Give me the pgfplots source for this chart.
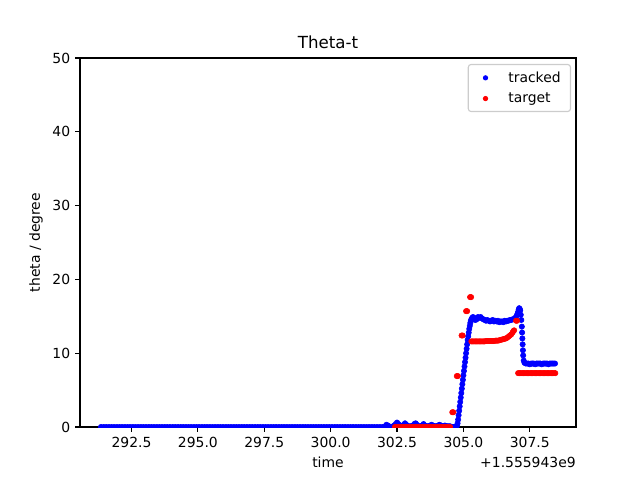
\documentclass[border=0pt]{standalone}
\usepackage{pgfplots}
\pgfplotsset{compat=1.18}
\usepackage{pgfplotstable}
\usepackage{fontspec}
\setmainfont{DejaVu Sans}

% tracked angle (blue)
\pgfplotstableread[row sep=\\]{
x y\\
291.35 0\\ 291.45 0\\ 291.55 0\\ 291.65 0\\ 291.75 0\\ 291.85 0\\ 291.95 0\\ 292.05 0\\ 292.15 0\\ 292.25 0\\
292.35 0\\ 292.45 0\\ 292.55 0\\ 292.65 0\\ 292.75 0\\ 292.85 0\\ 292.95 0\\ 293.05 0\\ 293.15 0\\ 293.25 0\\
293.35 0\\ 293.45 0\\ 293.55 0\\ 293.65 0\\ 293.75 0\\ 293.85 0\\ 293.95 0\\ 294.05 0\\ 294.15 0\\ 294.25 0\\
294.35 0\\ 294.45 0\\ 294.55 0\\ 294.65 0\\ 294.75 0\\ 294.85 0\\ 294.95 0\\ 295.05 0\\ 295.15 0\\ 295.25 0\\
295.35 0\\ 295.45 0\\ 295.55 0\\ 295.65 0\\ 295.75 0\\ 295.85 0\\ 295.95 0\\ 296.05 0\\ 296.15 0\\ 296.25 0\\
296.35 0\\ 296.45 0\\ 296.55 0\\ 296.65 0\\ 296.75 0\\ 296.85 0\\ 296.95 0\\ 297.05 0\\ 297.15 0\\ 297.25 0\\
297.35 0\\ 297.45 0\\ 297.55 0\\ 297.65 0\\ 297.75 0\\ 297.85 0\\ 297.95 0\\ 298.05 0\\ 298.15 0\\ 298.25 0\\
298.35 0\\ 298.45 0\\ 298.55 0\\ 298.65 0\\ 298.75 0\\ 298.85 0\\ 298.95 0\\ 299.05 0\\ 299.15 0\\ 299.25 0\\
299.35 0\\ 299.45 0\\ 299.55 0\\ 299.65 0\\ 299.75 0\\ 299.85 0\\ 299.95 0\\ 300.05 0\\ 300.15 0\\ 300.25 0\\
300.35 0\\ 300.45 0\\ 300.55 0\\ 300.65 0\\ 300.75 0\\ 300.85 0\\ 300.95 0\\ 301.05 0\\ 301.15 0\\ 301.25 0\\
301.35 0\\ 301.45 0\\ 301.55 0\\ 301.65 0\\ 301.75 0\\ 301.85 0\\ 301.95 0\\
302.05 0.1\\ 302.10 0.3\\ 302.15 0.2\\ 302.20 0.1\\ 302.25 0\\ 302.30 0\\ 302.35 0.1\\ 302.40 0.2\\ 302.45 0.4\\
302.50 0.6\\ 302.55 0.4\\ 302.60 0.2\\ 302.65 0.1\\ 302.70 0.1\\ 302.75 0.3\\ 302.80 0.5\\ 302.85 0.3\\
302.90 0.1\\ 302.95 0.1\\ 303.00 0.1\\ 303.05 0.1\\ 303.10 0.2\\ 303.15 0.4\\ 303.20 0.5\\ 303.25 0.3\\
303.30 0.1\\ 303.35 0.1\\ 303.40 0.1\\ 303.45 0.2\\ 303.50 0.4\\ 303.55 0.2\\ 303.60 0.1\\ 303.65 0.1\\
303.70 0.1\\ 303.75 0.2\\ 303.80 0.3\\ 303.85 0.2\\ 303.90 0.1\\ 303.95 0.1\\ 304.00 0.1\\ 304.05 0.2\\
304.10 0.3\\ 304.15 0.2\\ 304.20 0.1\\ 304.25 0.1\\ 304.30 0.2\\ 304.35 0.1\\ 304.40 0.1\\ 304.45 0.1\\
304.50 0.1\\ 304.55 0\\ 304.60 0\\ 304.65 0\\ 304.70 0\\
304.76 0.2\\ 304.78 0.5\\ 304.80 1.0\\ 304.82 1.6\\ 304.84 2.2\\ 304.86 2.8\\ 304.88 3.4\\ 304.90 4.0\\
304.92 4.6\\ 304.94 5.2\\ 304.96 5.8\\ 304.98 6.4\\ 305.00 7.0\\ 305.02 7.6\\ 305.04 8.2\\ 305.06 8.8\\
305.08 9.4\\ 305.10 10.0\\ 305.12 10.6\\ 305.14 11.2\\ 305.16 11.8\\ 305.18 12.3\\ 305.20 12.8\\ 305.22 13.3\\
305.24 13.7\\ 305.26 14.1\\ 305.28 14.4\\ 305.30 14.6\\ 305.33 14.8\\ 305.36 14.9\\
305.40 14.8\\ 305.45 14.5\\ 305.50 14.6\\ 305.55 14.9\\ 305.60 14.8\\ 305.65 14.9\\ 305.70 14.7\\ 305.75 14.6\\
305.80 14.5\\ 305.85 14.4\\ 305.90 14.5\\ 305.95 14.4\\ 306.00 14.3\\ 306.05 14.4\\ 306.10 14.5\\ 306.15 14.3\\
306.20 14.4\\ 306.25 14.3\\ 306.30 14.4\\ 306.35 14.2\\ 306.40 14.3\\ 306.45 14.3\\ 306.50 14.2\\ 306.55 14.4\\
306.60 14.3\\ 306.65 14.4\\ 306.70 14.4\\ 306.75 14.5\\ 306.80 14.5\\ 306.85 14.6\\ 306.90 14.6\\ 306.95 14.8\\
307.00 15.0\\ 307.03 15.3\\ 307.06 15.6\\ 307.08 15.9\\ 307.10 16.1\\ 307.12 16.0\\ 307.14 15.8\\ 307.16 15.2\\
307.18 14.5\\ 307.20 13.6\\ 307.21 12.8\\ 307.22 12.0\\ 307.23 11.2\\ 307.24 10.4\\ 307.25 9.7\\ 307.27 9.0\\
307.30 8.7\\ 307.35 8.6\\ 307.40 8.6\\ 307.45 8.6\\ 307.50 8.5\\ 307.55 8.6\\ 307.60 8.6\\ 307.65 8.6\\
307.70 8.5\\ 307.75 8.6\\ 307.80 8.6\\ 307.85 8.6\\ 307.90 8.6\\ 307.95 8.5\\ 308.00 8.6\\ 308.05 8.6\\
308.10 8.6\\ 308.15 8.6\\ 308.20 8.5\\ 308.25 8.6\\ 308.30 8.6\\ 308.35 8.6\\ 308.40 8.6\\ 308.45 8.6\\
}\tracked

% target angle (red)
\pgfplotstableread[row sep=\\]{
x y\\
302.42 0\\ 302.50 0\\ 302.58 0\\ 302.66 0\\ 302.74 0\\ 302.82 0\\ 302.90 0\\ 302.98 0\\ 303.06 0\\ 303.14 0\\
303.22 0\\ 303.30 0\\ 303.38 0\\ 303.46 0\\ 303.54 0\\ 303.62 0\\ 303.70 0\\ 303.78 0\\ 303.86 0\\ 303.94 0\\
304.02 0\\ 304.10 0\\ 304.18 0\\ 304.26 0\\ 304.34 0\\ 304.42 0\\ 304.50 0\\
304.58 2.0\\ 304.62 2.0\\ 304.75 6.9\\ 304.79 6.9\\ 304.93 12.4\\ 304.97 12.4\\ 305.10 15.7\\ 305.14 15.7\\
305.25 17.6\\ 305.29 17.6\\
305.30 11.6\\ 305.35 11.6\\ 305.40 11.6\\ 305.45 11.6\\ 305.50 11.6\\ 305.55 11.6\\ 305.60 11.6\\ 305.65 11.6\\
305.70 11.6\\ 305.75 11.6\\ 305.80 11.6\\ 305.85 11.65\\ 305.90 11.65\\ 305.95 11.65\\ 306.00 11.65\\ 306.05 11.65\\
306.10 11.65\\ 306.15 11.65\\ 306.20 11.7\\ 306.25 11.7\\ 306.30 11.7\\ 306.35 11.75\\ 306.40 11.8\\ 306.45 11.85\\
306.50 11.9\\ 306.55 11.95\\ 306.60 12.0\\ 306.65 12.1\\ 306.70 12.25\\ 306.75 12.4\\ 306.80 12.55\\ 306.85 12.8\\
306.88 13.0\\ 306.91 13.1\\ 306.98 14.4\\ 307.02 14.4\\
307.06 7.3\\ 307.11 7.3\\ 307.16 7.3\\ 307.21 7.3\\ 307.26 7.3\\ 307.31 7.3\\ 307.36 7.3\\ 307.41 7.3\\
307.46 7.3\\ 307.51 7.3\\ 307.56 7.3\\ 307.61 7.3\\ 307.66 7.3\\ 307.71 7.3\\ 307.76 7.3\\ 307.81 7.3\\
307.86 7.3\\ 307.91 7.3\\ 307.96 7.3\\ 308.01 7.3\\ 308.06 7.3\\ 308.11 7.3\\ 308.16 7.3\\ 308.21 7.3\\
308.26 7.3\\ 308.31 7.3\\ 308.36 7.3\\ 308.41 7.3\\ 308.46 7.3\\
}\target

\begin{document}
\begin{tikzpicture}
\useasboundingbox (-2cm,-1.325cm) rectangle (14cm,10.675cm);
\begin{axis}[
  name=main,
  scale only axis,
  width=12.4cm, height=9.225cm,
  at={(0,0)}, anchor=south west,
  xmin=290.56, xmax=309.24,
  ymin=0, ymax=50,
  xtick={292.5,295,297.5,300,302.5,305,307.5},
  ytick={0,10,20,30,40,50},
  xticklabel style={/pgf/number format/.cd,fixed,fixed zerofill,precision=1},
  /pgf/number format/assume math mode=true,
  tick pos=left,
  tick align=outside,
  major tick length=3.5pt,
  tick style={black, line width=0.8pt},
  axis line style={line width=0.8pt},
  ticklabel style={font=\fontsize{9.9}{12}\selectfont},
  title={Theta-t},
  title style={font=\fontsize{11.85}{14}\selectfont, yshift=-3pt},
  xlabel={time},
  ylabel={theta / degree},
  label style={font=\fontsize{9.9}{12}\selectfont},
  clip marker paths=true,
  legend image code/.code={\path[draw=none,fill=none] (0cm,0cm) -- (0.755cm,0cm); \draw[#1, mark size=1.45pt] plot coordinates {(0.325cm,0cm)};},
  legend style={at={(0.99,0.984)}, anchor=north east,
    draw=black!20, rounded corners=2pt, line width=0.8pt,
    font=\fontsize{9.9}{12}\selectfont, inner xsep=3pt, inner ysep=3pt,
    row sep=2pt,
    nodes={inner xsep=4pt}},
  legend cell align=left,
]
\addplot[only marks, mark=*, mark size=1.9pt, blue] table {\tracked};
\addlegendentry{tracked}
\addplot[only marks, mark=*, mark size=1.9pt, red] table {\target};
\addlegendentry{target}
\end{axis}
\node[anchor=east, font=\fontsize{9.9}{12}\selectfont, inner sep=0pt] at ([yshift=-0.875cm]main.south east) {+1.555943e9};
\end{tikzpicture}
\end{document}
